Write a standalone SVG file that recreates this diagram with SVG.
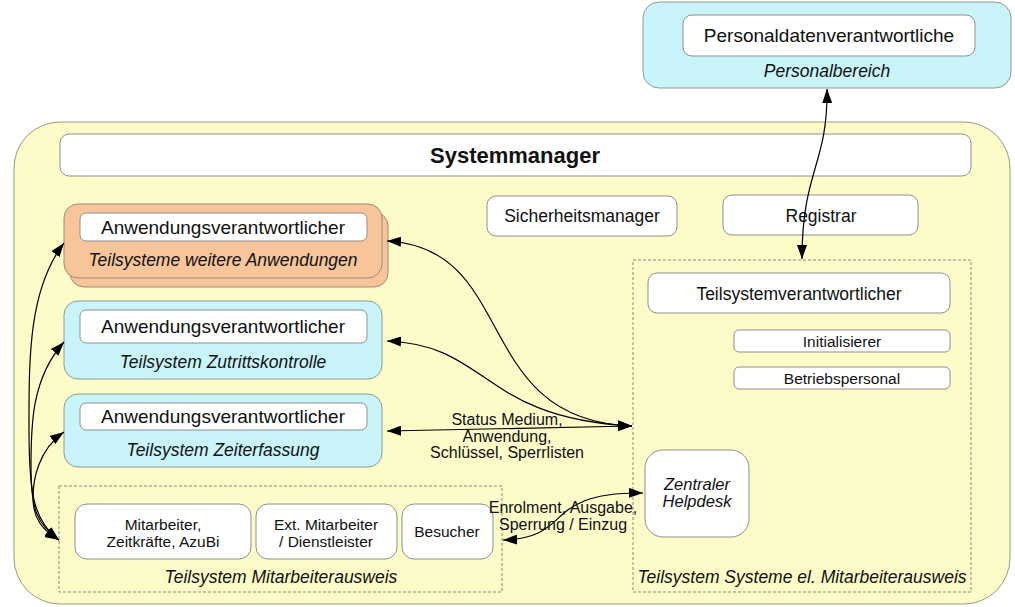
<svg xmlns="http://www.w3.org/2000/svg" width="1015" height="607" viewBox="0 0 1015 607">
<defs>
<marker id="ah" viewBox="0 0 14 10" refX="14" refY="5" markerWidth="14" markerHeight="10" markerUnits="userSpaceOnUse" orient="auto-start-reverse">
<path d="M0,0 L14,5 L0,10 Z" fill="#000"/>
</marker>
</defs>
<style>
text{font-family:"Liberation Sans",Arial,sans-serif;fill:#111;text-anchor:middle}
.box{fill:#fff;stroke:#8f8f8f;stroke-width:1}
.cyan{fill:#c8f4fa;stroke:#8f9a9a;stroke-width:1}
.org{fill:#f8c59a;stroke:#a08a78;stroke-width:1}
.dash{fill:none;stroke:#8a8a80;stroke-width:1;stroke-dasharray:3,2}
.it{font-style:italic}
.conn{fill:none;stroke:#000;stroke-width:1.2;marker-start:url(#ah);marker-end:url(#ah)}
.t19{font-size:19px}.t17{font-size:17.5px}.t15{font-size:15.5px}.t16{font-size:16px}
</style>

<g id="personalbereich">
<rect class="cyan" x="643" y="2" width="368" height="86" rx="16"/>
<rect class="box" x="683" y="15" width="292" height="41" rx="9"/>
<text class="t19" x="829" y="42">Personaldatenverantwortliche</text>
<text class="t17 it" x="827" y="77">Personalbereich</text>
</g>

<g id="unternehmen">
<rect x="14" y="122" width="996" height="482" rx="46" fill="#fdfcc9" stroke="#9a9a80" stroke-width="1"/>
</g>

<g id="systemmanager">
<rect class="box" x="60" y="134" width="911" height="42" rx="9"/>
<text x="515" y="163" style="font-size:22px;font-weight:bold">Systemmanager</text>
</g>

<g id="weitere-anwendungen">
<rect class="org" x="70" y="212" width="318" height="75" rx="14"/>
<rect class="org" x="64" y="204" width="318" height="74" rx="14"/>
<rect class="box" x="80" y="213" width="287" height="28" rx="6"/>
<text class="t19" x="223" y="234">Anwendungsverantwortlicher</text>
<text class="t17 it" x="223" y="266">Teilsysteme weitere Anwendungen</text>
</g>

<g id="zutrittskontrolle">
<rect class="cyan" x="64" y="301" width="318" height="78" rx="14"/>
<rect class="box" x="80" y="310" width="287" height="33" rx="6"/>
<text class="t19" x="223" y="333">Anwendungsverantwortlicher</text>
<text class="t17 it" x="223" y="368">Teilsystem Zutrittskontrolle</text>
</g>

<g id="zeiterfassung">
<rect class="cyan" x="64" y="394" width="318" height="73" rx="14"/>
<rect class="box" x="80" y="403" width="287" height="27" rx="6"/>
<text class="t19" x="223" y="423">Anwendungsverantwortlicher</text>
<text class="t17 it" x="223" y="456">Teilsystem Zeiterfassung</text>
</g>

<g id="mitarbeiterausweis">
<rect class="dash" x="59" y="486" width="443" height="106"/>
<rect class="box" x="75" y="504" width="176" height="55" rx="12"/>
<text class="t15" x="163" y="530">Mitarbeiter,</text>
<text class="t15" x="163" y="547">Zeitkräfte, AzuBi</text>
<rect class="box" x="256" y="504" width="141" height="55" rx="12"/>
<text class="t15" x="326" y="530">Ext. Mitarbeiter</text>
<text class="t15" x="326" y="547">/ Dienstleister</text>
<rect class="box" x="402" y="504" width="91" height="55" rx="12"/>
<text class="t15" x="447" y="537">Besucher</text>
<text class="t17 it" x="281" y="583">Teilsystem Mitarbeiterausweis</text>
</g>

<g id="sicherheitsmanager">
<rect class="box" x="487" y="196" width="190" height="40" rx="9"/>
<text class="t17" x="582" y="222">Sicherheitsmanager</text>
</g>

<g id="registrar">
<rect class="box" x="723" y="195" width="195" height="40" rx="9"/>
<text class="t17" x="821" y="222">Registrar</text>
</g>

<g id="systeme-mitarbeiterausweis">
<rect class="dash" x="633" y="260" width="338" height="332"/>
<rect class="box" x="648" y="273" width="302" height="40" rx="9"/>
<text class="t17" x="799" y="300">Teilsystemverantwortlicher</text>
<rect class="box" x="734" y="330" width="216" height="22" rx="5"/>
<text class="t15" x="842" y="347">Initialisierer</text>
<rect class="box" x="734" y="367" width="216" height="22" rx="5"/>
<text class="t15" x="842" y="384">Betriebspersonal</text>
<rect class="box" x="645" y="450" width="104" height="87" rx="18"/>
<text class="it" style="font-size:16.5px" x="697" y="490">Zentraler</text>
<text class="it" style="font-size:16.5px" x="697" y="507">Helpdesk</text>
<text class="t17 it" x="802" y="583">Teilsystem Systeme el. Mitarbeiterausweis</text>
</g>

<g id="connectors">
<path class="conn" d="M827,89 C828,165 802,170 802,259"/>
<path class="conn" d="M387,241 C520,248 470,420 632,426"/>
<path class="conn" d="M387,341 C490,345 480,418 632,426"/>
<path class="conn" d="M387,431 L632,426"/>
<path class="conn" d="M64,243 C28,290 29,360 29,430 C29,500 35,520 59,540"/>
<path class="conn" d="M64,342 C30,380 31,430 31,470 C31,510 38,525 59,540"/>
<path class="conn" d="M64,432 C38,450 33,480 33,498 C33,518 42,530 59,540"/>
<path class="conn" d="M503,540 C575,538 540,492 643,493"/>
<text class="t16" x="507" y="425">Status Medium,</text>
<text class="t16" x="507" y="442">Anwendung,</text>
<text class="t16" x="507" y="458">Schlüssel, Sperrlisten</text>
<text class="t16" x="563" y="513">Enrolment, Ausgabe,</text>
<text class="t16" x="563" y="530">Sperrung / Einzug</text>
</g>
</svg>
